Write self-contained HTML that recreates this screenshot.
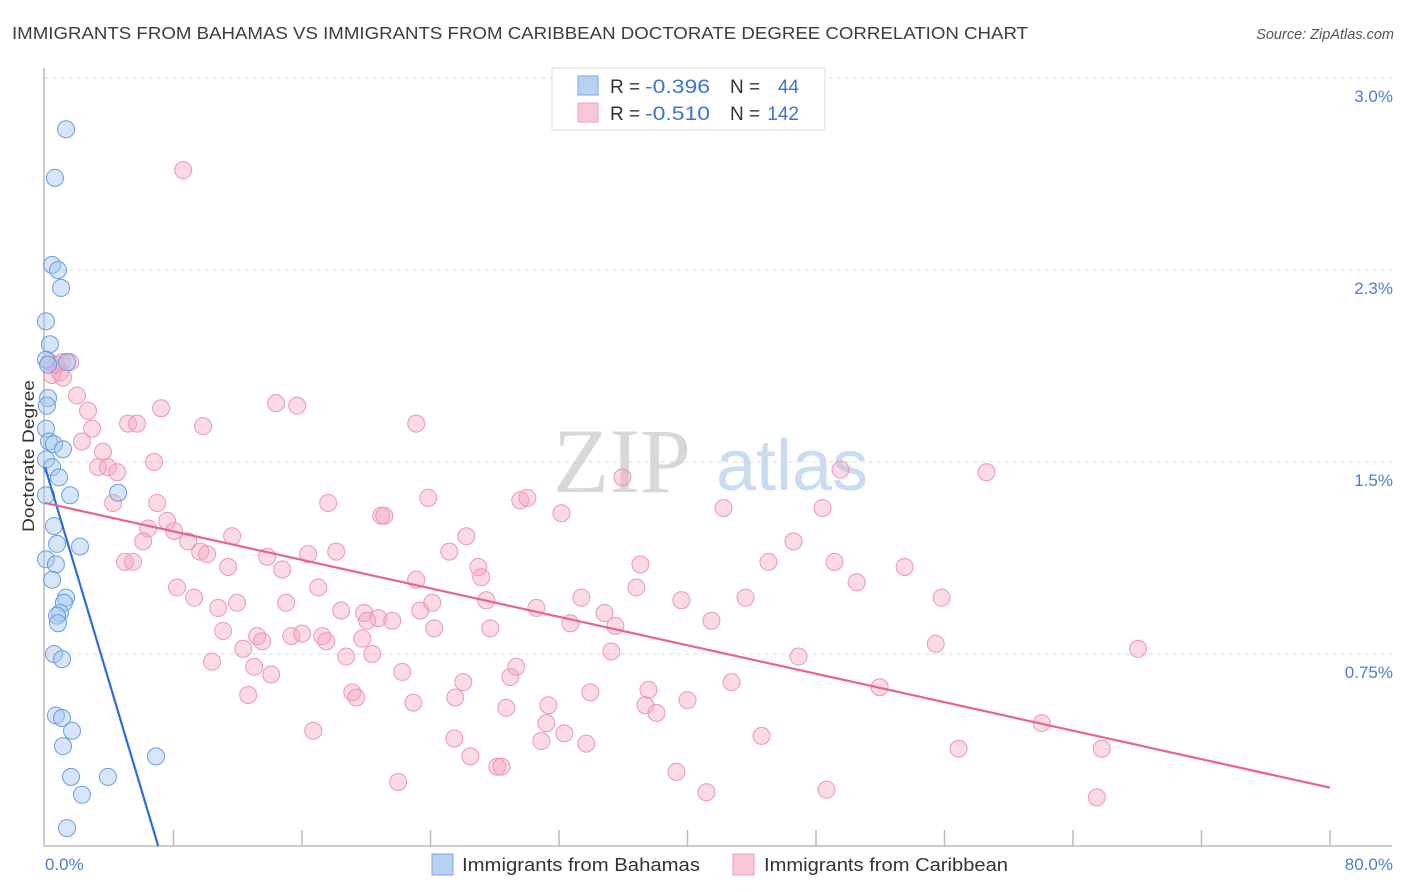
<!DOCTYPE html>
<html><head><meta charset="utf-8"><style>
body{margin:0;background:#fff;font-family:"Liberation Sans",sans-serif}
svg{display:block}
</style></head><body>
<svg width="1406" height="892" xmlns="http://www.w3.org/2000/svg">
<text x="12" y="39" font-size="17.5" fill="#3c3c3c" textLength="1016" lengthAdjust="spacingAndGlyphs">IMMIGRANTS FROM BAHAMAS VS IMMIGRANTS FROM CARIBBEAN DOCTORATE DEGREE CORRELATION CHART</text>
<text x="1394" y="39" font-size="14.5" font-style="italic" fill="#555" text-anchor="end">Source: ZipAtlas.com</text>
<g>
<text x="553" y="492" font-size="92" font-family="Liberation Serif,serif" fill="#d8d8d8">ZIP</text>
<text x="716" y="490" font-size="72" fill="#c9dcf2">atlas</text>
</g>
<g id="grid"></g>
<g id="axes"></g>
<g id="pink"></g>
<g id="blue"></g>
<g id="trends"></g>
<g>
<rect x="552" y="68" width="273" height="62" fill="#fff" stroke="#ddd"/>
<rect x="578" y="76" width="20" height="19" fill="#b8d2f4" stroke="#7aa6e0"/>
<rect x="578" y="103" width="20" height="19" fill="#f8c7d6" stroke="#eba0b8"/>
<text x="610" y="93" font-size="19" fill="#333">R = </text>
<text x="645" y="93" font-size="19" fill="#3b74d1" textLength="65" lengthAdjust="spacingAndGlyphs">-0.396</text>
<text x="730" y="93" font-size="19" fill="#333">N = </text>
<text x="799" y="93" font-size="19" fill="#3b74d1" text-anchor="end">44</text>
<text x="610" y="120" font-size="19" fill="#333">R = </text>
<text x="645" y="120" font-size="19" fill="#3b74d1" textLength="65" lengthAdjust="spacingAndGlyphs">-0.510</text>
<text x="730" y="120" font-size="19" fill="#333">N = </text>
<text x="799" y="120" font-size="19" fill="#3b74d1" text-anchor="end">142</text>
</g>
<text transform="translate(34,456) rotate(-90)" font-size="17" fill="#333" text-anchor="middle" textLength="152" lengthAdjust="spacingAndGlyphs">Doctorate Degree</text>
<text x="45" y="870" font-size="17" fill="#4a7fd4">0.0%</text>
<text x="1393" y="870" font-size="17" fill="#4a7fd4" text-anchor="end">80.0%</text>
<g>
<rect x="432" y="854" width="21" height="21" fill="#b8d2f4" stroke="#7aa6e0"/>
<text x="462" y="871" font-size="18" fill="#333" textLength="238" lengthAdjust="spacingAndGlyphs">Immigrants from Bahamas</text>
<rect x="733" y="854" width="21" height="21" fill="#f8c7d6" stroke="#eba0b8"/>
<text x="764" y="871" font-size="18" fill="#333" textLength="244" lengthAdjust="spacingAndGlyphs">Immigrants from Caribbean</text>
</g>
</svg>
<script>
const yTicks=[3.0,2.25,1.5,0.75];
const yTickLabels=["3.0%","2.3%","1.5%","0.75%"];
const blueX=[1.31,0.62,0.44,0.81,1.00,0.06,0.31,0.06,0.19,1.37,0.19,0.12,0.06,0.25,0.56,1.12,0.06,0.44,0.87,1.56,4.55,0.06,0.56,0.75,2.18,0.06,0.68,0.44,1.31,1.18,0.93,0.75,0.81,0.56,1.06,0.68,1.06,1.68,1.12,1.62,3.92,2.30,6.91,1.37];
const blueY=[2.80,2.61,2.27,2.25,2.18,2.05,1.96,1.90,1.88,1.89,1.75,1.72,1.63,1.58,1.57,1.55,1.51,1.48,1.44,1.37,1.38,1.37,1.25,1.18,1.17,1.12,1.10,1.04,0.97,0.95,0.91,0.90,0.87,0.75,0.73,0.51,0.50,0.45,0.39,0.27,0.27,0.20,0.35,0.07];
const pinkX=[8.60,0.25,0.69,1.06,1.56,0.44,0.93,1.12,1.99,2.68,2.93,2.30,5.17,5.73,7.23,9.84,14.39,15.70,23.11,3.30,3.61,3.92,4.49,4.24,6.79,6.98,7.60,6.42,6.11,8.04,8.91,9.66,10.09,11.65,4.98,5.48,11.40,13.83,14.77,8.22,9.28,10.78,11.96,11.09,13.21,13.52,12.34,10.40,13.02,14.08,12.65,15.01,15.33,16.38,18.13,17.01,16.01,17.26,17.51,18.44,19.87,20.75,20.06,21.62,19.75,18.75,20.37,17.63,20.93,21.12,23.11,23.36,24.11,24.23,23.86,22.24,22.93,19.13,19.38,16.70,21.99,25.17,26.23,26.98,27.16,27.47,27.72,26.04,25.54,25.48,26.48,28.16,28.41,28.72,28.97,29.34,29.59,30.03,32.15,30.59,32.71,33.39,34.83,35.51,35.26,33.95,31.34,31.21,30.90,32.33,33.70,35.95,37.07,36.82,39.62,41.49,37.57,37.38,38.07,40.00,39.31,41.18,42.74,42.24,43.61,45.04,46.60,48.41,49.15,50.53,49.53,53.52,55.82,55.45,46.91,51.96,44.61,48.66,58.62,56.88,62.05,65.79,65.48,68.05];
const pinkY=[2.64,1.89,1.88,1.89,1.89,1.84,1.85,1.83,1.76,1.70,1.63,1.58,1.65,1.65,1.71,1.64,1.73,1.72,1.65,1.48,1.54,1.48,1.46,1.34,1.50,1.34,1.27,1.24,1.19,1.23,1.19,1.15,1.14,1.21,1.11,1.11,1.09,1.13,1.08,1.01,0.97,0.93,0.95,0.84,0.82,0.80,0.77,0.72,0.70,0.67,0.59,0.95,0.82,1.14,1.15,1.01,0.83,0.82,0.80,0.92,0.91,0.89,0.88,0.88,0.81,0.74,0.75,1.34,1.29,1.29,1.04,0.92,0.95,0.85,1.36,0.68,0.56,0.60,0.58,0.45,0.25,1.15,1.21,1.09,1.05,0.96,0.85,0.64,0.58,0.42,0.35,0.31,0.31,0.54,0.66,0.70,1.35,1.36,1.30,0.93,0.87,0.97,0.91,0.86,0.76,0.60,0.55,0.48,0.41,0.44,0.40,1.44,1.10,1.01,0.96,0.88,0.61,0.55,0.52,0.57,0.29,0.21,0.64,1.32,0.97,1.11,1.19,1.32,1.11,1.03,1.47,1.09,0.97,0.79,0.74,0.62,0.43,0.22,1.46,0.38,0.48,0.38,0.19,0.77];
const blueTrend=[1.48,-0.21];   // intercept, slope
const pinkTrend=[1.34,-0.0139];
const NS="http://www.w3.org/2000/svg";
const X0=45,X1=1330,Y0=846,YPX=256;
function sx(v){return X0+(v/80)*(X1-X0);}
function sy(v){return Y0-v*YPX;}
function mk(tag,attrs,parent){const e=document.createElementNS(NS,tag);for(const k in attrs)e.setAttribute(k,attrs[k]);parent.appendChild(e);return e;}
const grid=document.getElementById('grid');
yTicks.forEach((t,i)=>{
  const l=mk('line',{x1:45,x2:1392,y1:sy(t),y2:sy(t),stroke:'#d9d9d9','stroke-dasharray':'4,4'},grid);
  
  
  const tx=mk('text',{x:1393,y:sy(t)+24,'font-size':17,fill:'#4a7fd4','text-anchor':'end'},grid);
  tx.textContent=yTickLabels[i];
  
  
});
const axes=document.getElementById('axes');
mk('line',{x1:44,x2:44,y1:68,y2:846,stroke:'#bbb','stroke-width':1.5},axes);
mk('line',{x1:44,x2:1392,y1:846,y2:846,stroke:'#bbb','stroke-width':1.5},axes);
for(let i=1;i<=10;i++){
  const t=mk('line',{x1:sx(i*8),x2:sx(i*8),y1:830,y2:846,stroke:'#bbb','stroke-width':1.5},axes);
  
  
}
const pg=document.getElementById('pink');
pinkX.forEach((x,i)=>{
  const c=mk('circle',{cx:sx(x),cy:sy(pinkY[i]),r:8.5,fill:'rgba(244,168,194,0.42)',stroke:'#eb98b4','stroke-width':1},pg);
  
  
});
const bg=document.getElementById('blue');
blueX.forEach((x,i)=>{
  const c=mk('circle',{cx:sx(x),cy:sy(blueY[i]),r:8.5,fill:'rgba(165,199,240,0.45)',stroke:'#6a9ddf','stroke-width':1},bg);
  
  
});
const tg=document.getElementById('trends');
const bEnd=-blueTrend[0]/blueTrend[1];
const bl=mk('line',{x1:sx(0),y1:sy(blueTrend[0]),x2:sx(bEnd),y2:sy(0),stroke:'#2b6fd6','stroke-width':2.2},tg);


const pl=mk('line',{x1:sx(0),y1:sy(pinkTrend[0]),x2:sx(80),y2:sy(pinkTrend[0]+pinkTrend[1]*80),stroke:'#e8648f','stroke-width':2.2},tg);


</script>
</body></html>
